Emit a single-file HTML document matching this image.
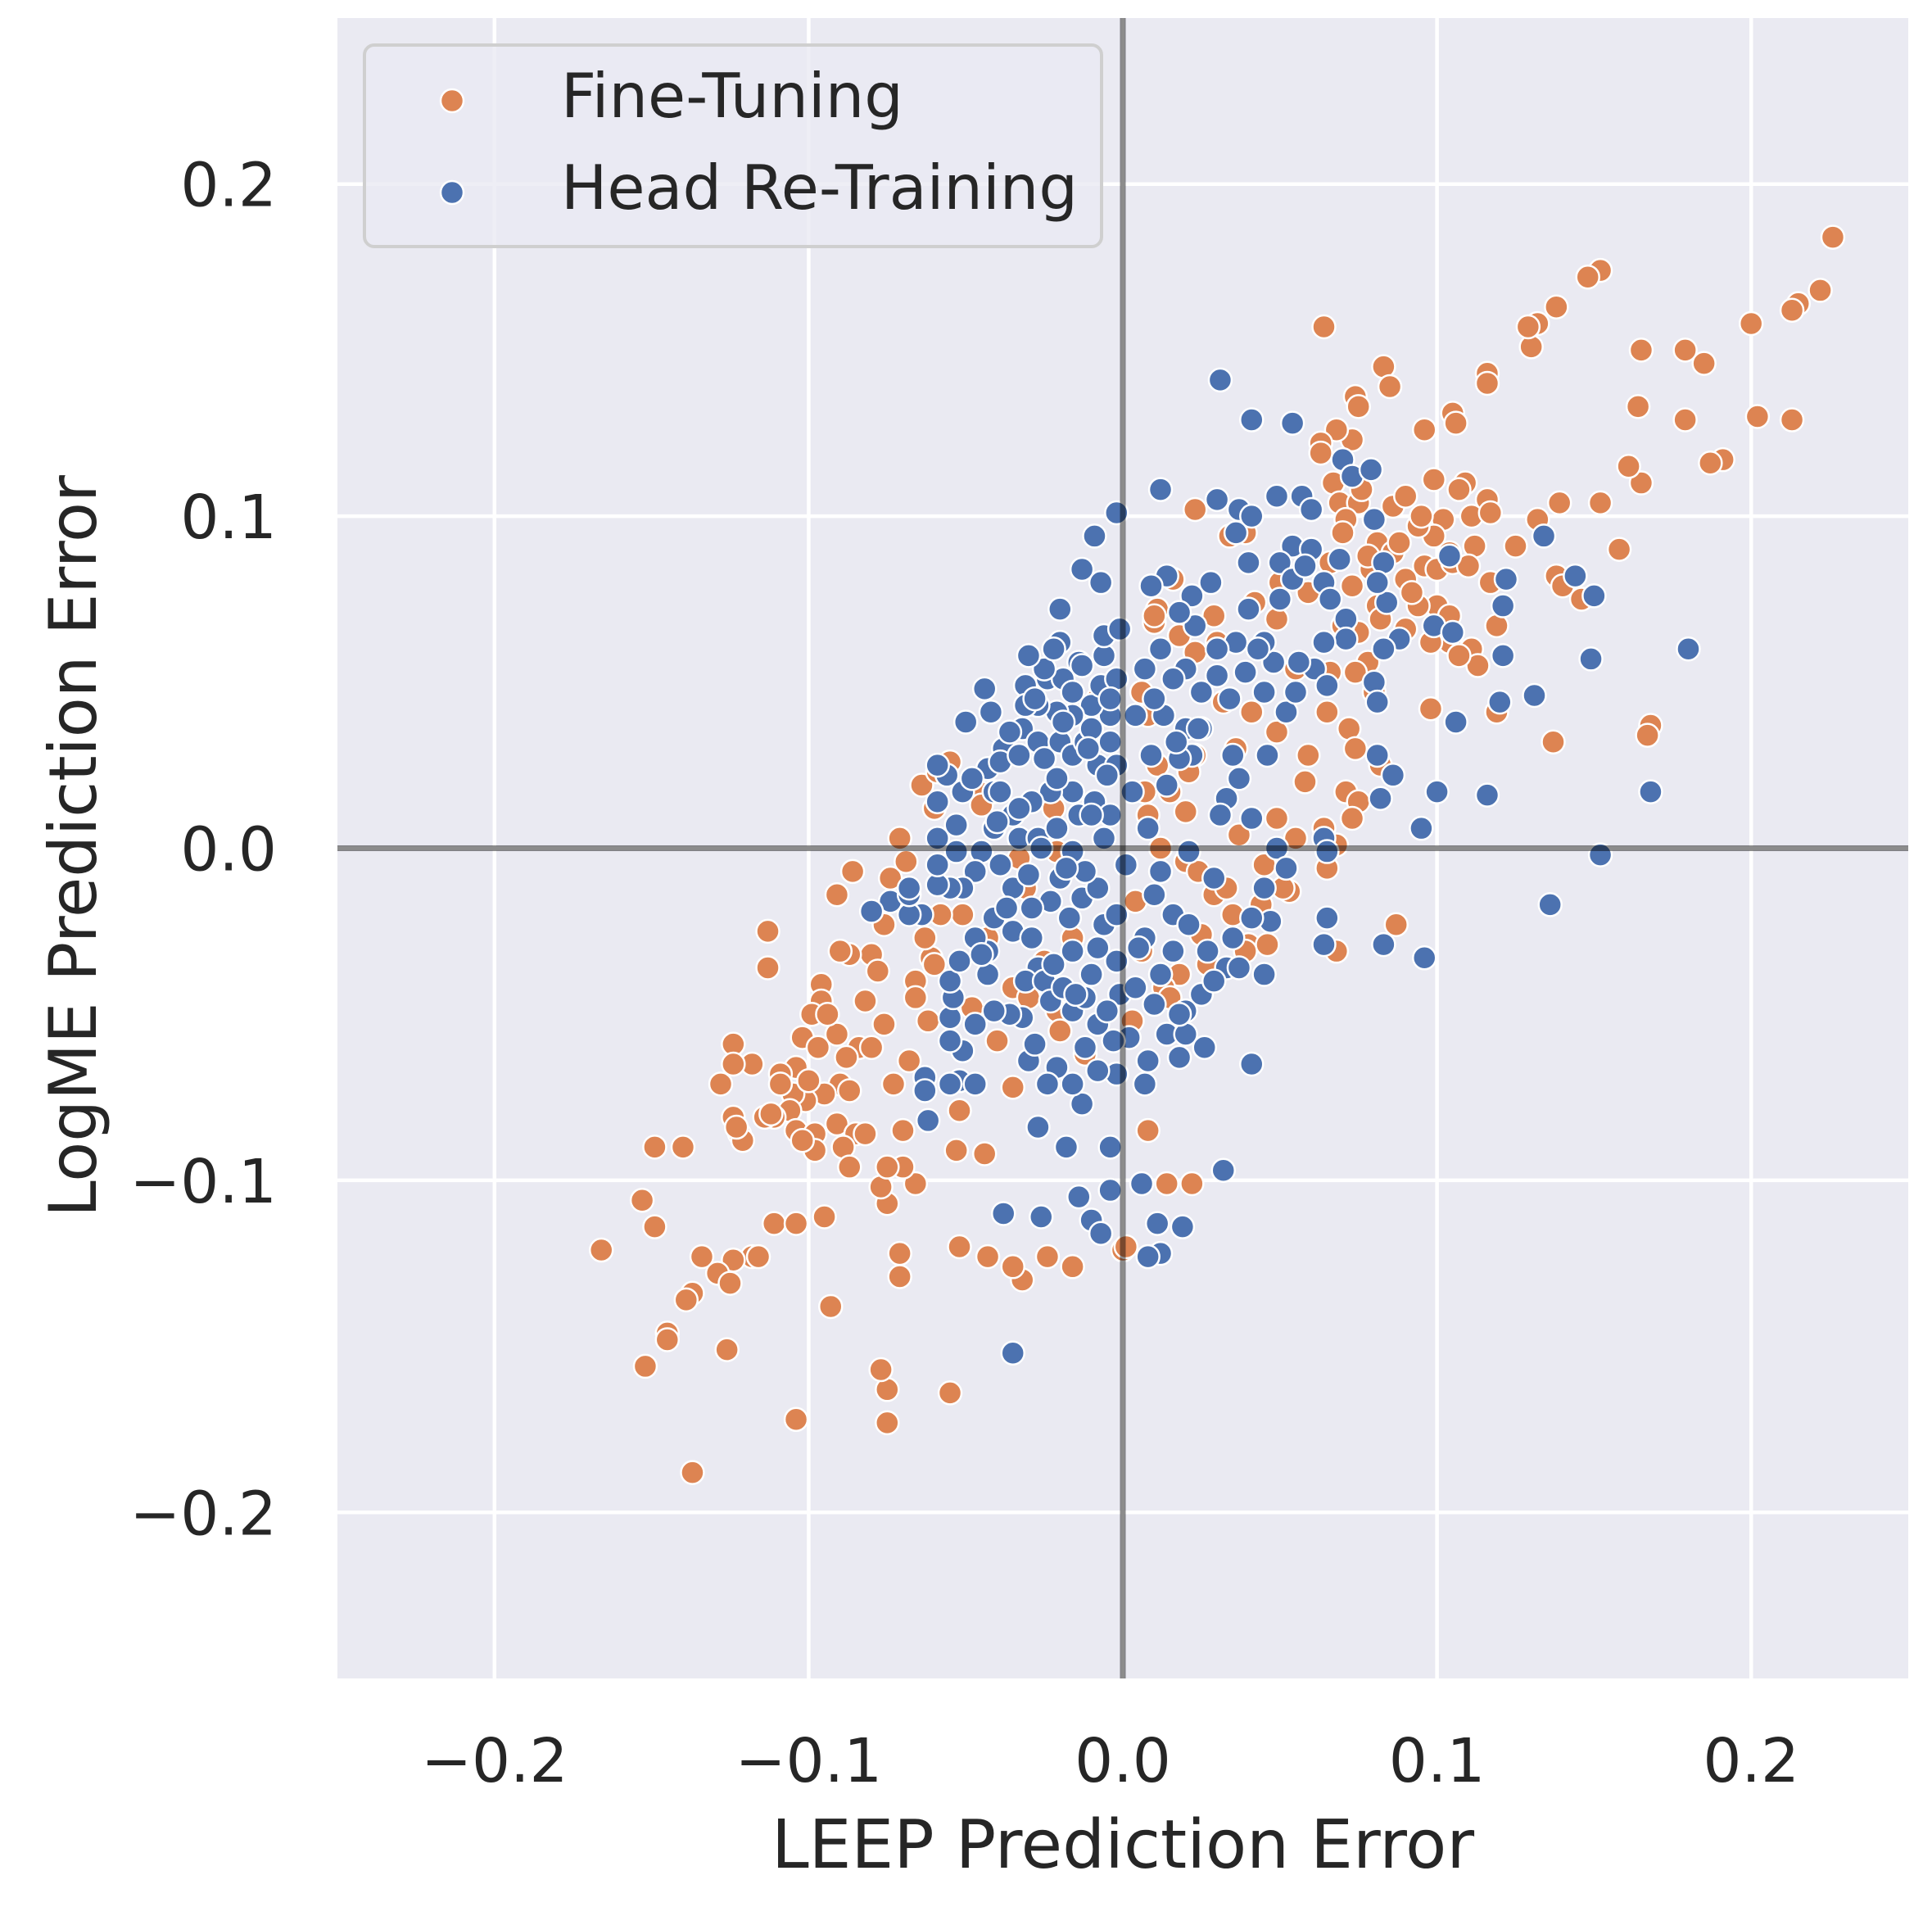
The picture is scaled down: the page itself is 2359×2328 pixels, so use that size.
<!DOCTYPE html>
<html><head><meta charset="utf-8"><style>
html,body{margin:0;padding:0;background:#fff;}
svg{display:block;font-family:"DejaVu Sans","Liberation Sans",sans-serif;}
</style></head><body>
<svg id="chart" width="2359" height="2328" viewBox="0 0 2359 2328" xmlns="http://www.w3.org/2000/svg">
<rect x="412" y="22" width="1918" height="2027" fill="#eaeaf2"/>
<g id="grid"></g>
<g id="pts"></g>
<g id="ref"></g>
<g id="ticks"></g>
<text x="1371" y="2280" font-size="82" text-anchor="middle" fill="#262626">LEEP Prediction Error</text>
<text transform="translate(117,1033) rotate(-90)" font-size="80" text-anchor="middle" fill="#262626">LogME Prediction Error</text>
<g>
<rect x="445" y="55" width="900" height="246" rx="12" fill="#eaeaf2" fill-opacity="0.8" stroke="#cfcfcf" stroke-width="4"/>
<circle cx="552" cy="123" r="14" fill="#dd8452" stroke="#fff" stroke-width="2.5"/>
<text x="685" y="143" font-size="75" fill="#262626">Fine-Tuning</text>
<circle cx="552" cy="235" r="14" fill="#4c72b0" stroke="#fff" stroke-width="2.5"/>
<text x="685" y="255" font-size="75" fill="#262626">Head Re-Training</text>
</g>
</svg>
<script>
const xTicks=[-0.2,-0.1,0.0,0.1,0.2];
const yTicks=[-0.2,-0.1,0.0,0.1,0.2];
const tickLabels=["\u22120.2","\u22120.1","0.0","0.1","0.2"];
const fineX=[0.226,0.222,0.215,0.213,0.200,0.213,0.202,0.191,0.187,0.185,0.179,0.179,0.165,0.164,0.165,0.161,0.158,0.152,0.148,0.138,0.132,0.130,0.129,0.152,0.139,0.132,0.138,0.140,0.146,0.125,0.116,0.116,0.105,0.106,0.096,0.099,0.109,0.116,0.111,0.102,0.099,0.112,0.104,0.096,0.100,0.090,0.117,0.100,0.104,0.111,0.113,0.119,0.119,0.098,0.137,0.168,0.167,0.064,0.083,0.085,0.074,0.075,0.073,0.068,0.063,0.063,0.067,0.069,0.075,0.071,0.081,0.086,0.079,0.073,0.081,0.075,0.078,0.066,0.065,0.072,0.074,0.082,0.071,0.075,0.073,0.064,0.068,0.065,0.068,0.087,0.023,0.034,0.039,0.050,0.042,0.029,0.011,0.010,0.023,0.032,0.041,0.049,0.036,0.023,0.021,0.011,0.015,0.020,0.049,0.012,0.020,0.024,0.029,0.035,0.044,0.053,0.040,0.046,0.025,0.018,0.013,0.006,0.008,0.014,0.022,0.000,0.001,-0.016,-0.024,-0.032,-0.035,-0.043,-0.052,-0.055,-0.035,-0.044,-0.053,-0.052,-0.071,-0.071,-0.075,-0.075,-0.077,-0.066,-0.070,-0.075,-0.077,-0.075,-0.070,-0.073,-0.068,-0.062,-0.066,-0.061,-0.063,-0.076,-0.074,-0.069,-0.071,-0.064,-0.059,-0.055,-0.060,-0.046,-0.086,-0.091,-0.080,-0.087,-0.090,-0.078,-0.082,-0.076,-0.084,-0.088,-0.091,-0.096,-0.096,-0.099,-0.102,-0.104,-0.097,-0.090,-0.087,-0.095,-0.101,-0.105,-0.109,-0.109,-0.106,-0.104,-0.098,-0.091,-0.085,-0.082,-0.089,-0.087,-0.098,-0.102,-0.111,-0.114,-0.118,-0.113,-0.113,-0.124,-0.124,-0.128,-0.124,-0.122,-0.121,-0.123,-0.149,-0.140,-0.153,-0.149,-0.166,-0.111,-0.104,-0.095,-0.118,-0.116,-0.124,-0.134,-0.129,-0.125,-0.137,-0.139,-0.145,-0.145,-0.152,-0.126,-0.093,-0.104,-0.137,-0.021,-0.033,-0.022,0.007,0.008,0.008,0.006,0.010,0.016,0.004,-0.031,-0.016,-0.035,-0.021,-0.043,-0.051,-0.025,0.039,0.051,0.055,0.059,0.037,0.055,0.049,0.059,0.066,0.076,0.086,0.090,0.094,0.107,0.117,0.105,0.094,0.090,0.098,0.107,0.082,0.074,0.080,0.070,
-0.060,-0.048,-0.040,-0.030,-0.020,-0.012,0.003,0.015,0.027,0.033,0.045,0.058,0.030,0.018,-0.008,-0.045,-0.058,-0.066,-0.080,-0.094,-0.100,-0.112,0.060,0.070,0.088,0.095,0.110,0.078,0.092,0.104];
const fineY=[0.184,0.168,0.164,0.162,0.158,0.129,0.130,0.117,0.116,0.146,0.150,0.129,0.150,0.133,0.110,0.115,0.090,0.174,0.172,0.163,0.158,0.151,0.157,0.104,0.104,0.099,0.082,0.079,0.075,0.091,0.143,0.140,0.131,0.128,0.126,0.111,0.110,0.105,0.100,0.099,0.094,0.091,0.089,0.085,0.084,0.081,0.080,0.073,0.062,0.060,0.055,0.067,0.041,0.042,0.032,0.037,0.034,0.157,0.145,0.139,0.136,0.133,0.123,0.126,0.122,0.119,0.110,0.104,0.104,0.099,0.092,0.089,0.084,0.079,0.073,0.065,0.056,0.053,0.041,0.036,0.030,0.025,0.017,0.014,0.009,0.006,0.001,-0.006,-0.031,-0.023,0.102,0.094,0.095,0.080,0.074,0.070,0.072,0.068,0.059,0.044,0.041,0.035,0.030,0.028,0.023,0.025,0.017,0.011,0.009,0.000,-0.004,-0.007,-0.014,-0.020,-0.017,-0.013,-0.029,-0.029,-0.026,-0.038,-0.042,-0.031,-0.085,-0.101,-0.101,-0.121,-0.120,-0.126,-0.123,-0.130,-0.126,-0.123,-0.120,-0.164,-0.072,-0.092,-0.091,-0.079,-0.122,-0.129,-0.173,-0.163,-0.157,-0.101,-0.096,-0.107,-0.102,-0.096,-0.085,-0.071,-0.064,-0.052,-0.040,-0.033,-0.027,-0.023,-0.009,-0.004,0.003,0.019,0.023,0.026,0.012,0.017,-0.007,-0.014,-0.032,-0.032,-0.031,-0.037,-0.046,-0.053,-0.060,-0.063,-0.056,-0.041,-0.046,-0.050,-0.057,-0.066,-0.060,-0.071,-0.073,-0.074,-0.076,-0.074,-0.068,-0.071,-0.079,-0.085,-0.086,-0.083,-0.086,-0.086,-0.090,-0.096,-0.091,-0.088,-0.081,-0.081,-0.065,-0.025,-0.036,-0.059,-0.065,-0.071,-0.081,-0.086,-0.088,-0.084,-0.090,-0.090,-0.106,-0.114,-0.121,-0.113,-0.113,-0.111,-0.123,-0.123,-0.124,-0.123,-0.128,-0.131,-0.134,-0.136,-0.146,-0.148,-0.156,-0.151,-0.138,-0.172,-0.188,-0.001,-0.003,0.012,0.017,0.010,0.040,0.047,0.070,0.081,-0.016,-0.012,-0.027,-0.042,-0.049,-0.027,-0.020,-0.034,-0.031,-0.012,0.003,0.028,0.004,0.054,0.069,0.077,0.086,0.108,0.103,0.106,0.097,0.108,0.101,0.086,0.073,0.066,0.062,0.058,0.069,0.053,0.047,0.067,
-0.035,-0.048,-0.058,-0.045,-0.055,-0.062,-0.052,-0.045,-0.035,-0.012,-0.005,0.020,0.062,0.064,0.045,0.013,-0.020,-0.045,-0.060,-0.050,-0.070,-0.080,0.090,0.095,0.092,0.100,0.085,0.088,0.077,0.070];
const headX=[0.031,0.041,0.054,0.012,-0.002,-0.009,-0.013,-0.007,-0.020,0.030,0.037,0.041,0.049,0.057,0.060,0.070,0.073,0.079,0.080,0.054,0.040,0.050,0.054,0.064,0.069,0.083,0.084,0.081,0.104,0.122,0.134,0.121,0.144,0.150,0.149,0.180,0.099,0.105,0.121,0.088,0.083,0.071,0.071,0.064,0.061,0.065,0.080,0.081,0.120,0.131,0.106,0.086,0.081,0.082,0.100,0.116,0.095,0.168,0.152,0.136,0.096,0.083,0.065,0.064,0.064,0.065,0.049,0.052,0.045,0.047,0.041,0.045,0.041,0.032,0.019,0.011,0.012,0.008,0.006,-0.004,-0.004,-0.010,-0.007,-0.014,-0.026,-0.038,-0.018,-0.027,-0.013,-0.035,0.046,0.037,0.033,0.041,0.031,0.052,0.055,0.045,0.048,0.056,0.036,0.039,0.030,0.034,0.025,0.020,0.023,0.028,0.022,0.014,0.009,0.018,0.012,0.007,0.016,0.013,0.020,0.025,0.022,0.009,0.003,0.014,0.008,0.012,0.010,0.016,0.021,0.027,0.033,0.025,0.020,0.014,0.020,0.018,0.008,0.007,0.002,-0.001,-0.002,0.007,0.004,0.010,-0.002,-0.008,-0.012,-0.016,-0.021,-0.024,-0.030,-0.028,-0.032,-0.036,-0.041,-0.047,-0.051,-0.055,-0.052,-0.055,-0.063,-0.063,-0.062,-0.047,-0.055,-0.054,-0.055,-0.052,-0.043,-0.043,-0.047,-0.041,-0.035,-0.029,-0.027,-0.031,-0.025,-0.023,-0.019,-0.016,-0.012,-0.008,-0.005,-0.010,-0.016,-0.017,-0.013,-0.008,-0.006,-0.012,-0.016,-0.020,-0.023,-0.029,-0.035,-0.039,-0.033,-0.027,-0.021,-0.014,-0.006,-0.009,-0.016,-0.023,-0.029,-0.035,-0.041,-0.045,-0.047,-0.051,-0.055,-0.059,-0.064,-0.068,-0.074,-0.080,-0.068,-0.059,-0.053,-0.059,-0.053,-0.059,-0.056,-0.050,-0.042,-0.041,-0.043,-0.038,-0.039,-0.033,-0.032,-0.027,-0.025,-0.021,-0.020,-0.016,-0.012,-0.008,-0.004,-0.002,-0.004,-0.010,-0.016,-0.021,-0.027,-0.031,-0.024,-0.019,-0.014,-0.006,-0.006,-0.001,-0.007,-0.002,-0.020,-0.025,-0.031,-0.039,-0.051,-0.059,-0.068,0.035,0.018,0.021,0.029,0.035,0.029,0.037,0.016,0.012,-0.016,-0.010,-0.004,0.001,-0.002,
-0.045,-0.037,-0.030,-0.022,-0.015,-0.008,-0.003,-0.040,-0.033,-0.026,-0.018,-0.010,-0.048,-0.036,-0.028,-0.019,-0.011,-0.004,-0.044,-0.030,-0.022,-0.013,-0.005,0.005,0.012,0.018,0.026,0.004,0.010,0.017,0.024,0.030,0.040,0.045,0.050,0.060,0.066,0.058,0.043,0.036];
const headY=[0.141,0.129,0.128,0.108,0.101,0.094,0.084,0.080,0.072,0.105,0.102,0.100,0.106,0.106,0.102,0.117,0.112,0.114,0.099,0.091,0.086,0.086,0.081,0.080,0.087,0.086,0.074,0.080,0.088,0.081,0.094,0.073,0.082,0.076,0.057,0.060,0.067,0.065,0.058,0.063,0.060,0.069,0.063,0.062,0.054,0.049,0.050,0.044,0.044,0.046,0.038,0.022,0.028,0.015,0.017,0.016,0.006,0.017,-0.002,-0.017,-0.033,-0.029,-0.021,-0.029,0.003,-0.001,0.000,-0.006,-0.012,-0.022,-0.021,-0.038,-0.065,-0.097,-0.114,-0.113,-0.122,-0.123,-0.101,-0.103,-0.090,-0.112,-0.116,-0.105,-0.111,-0.110,-0.090,-0.084,-0.077,-0.152,0.028,0.021,0.015,0.009,0.010,0.041,0.047,0.047,0.056,0.056,0.062,0.053,0.052,0.045,0.047,0.054,0.067,0.080,0.076,0.082,0.079,0.071,0.060,0.054,0.051,0.040,0.036,0.036,0.028,0.028,0.017,0.019,0.006,-0.007,-0.014,-0.020,-0.023,-0.031,-0.036,-0.044,-0.049,-0.056,-0.056,-0.063,-0.064,-0.071,-0.057,-0.044,-0.034,-0.027,-0.042,-0.047,-0.068,-0.067,-0.060,-0.071,-0.066,-0.071,-0.064,-0.059,-0.051,-0.050,-0.049,-0.053,-0.061,-0.058,-0.070,-0.071,-0.069,-0.073,-0.082,-0.071,-0.051,-0.045,-0.040,-0.034,-0.038,-0.031,-0.027,-0.021,-0.025,-0.027,-0.036,-0.040,-0.040,-0.046,-0.042,-0.049,-0.045,-0.053,-0.049,-0.038,-0.031,-0.021,-0.015,-0.012,-0.023,-0.007,-0.001,-0.009,-0.016,-0.018,-0.012,-0.005,0.003,0.003,0.006,0.010,0.003,0.014,0.017,0.017,0.014,0.010,0.006,-0.001,-0.007,-0.012,-0.012,-0.011,-0.020,-0.020,-0.016,-0.019,-0.014,-0.005,-0.001,0.003,0.007,0.014,0.022,0.038,0.041,0.017,0.024,0.030,0.026,0.028,0.036,0.032,0.027,0.021,0.032,0.028,0.032,0.025,0.032,0.025,0.040,0.043,0.040,0.041,0.043,0.049,0.051,0.051,0.056,0.058,0.064,0.066,0.049,0.051,0.062,0.054,0.043,0.017,0.017,0.025,-0.012,0.028,0.027,-0.001,-0.009,-0.027,-0.040,-0.036,-0.031,-0.038,0.047,0.036,0.010,-0.005,-0.020,
-0.032,-0.018,-0.008,-0.035,-0.044,-0.030,-0.058,0.008,0.012,0.000,-0.006,0.010,0.021,0.035,0.045,0.038,0.030,0.045,0.048,0.058,0.060,0.055,0.022,-0.030,-0.038,-0.050,-0.060,0.040,0.045,0.032,0.036,0.060,0.072,0.062,0.075,0.090,0.075,0.085,0.060,0.095];

const NS="http://www.w3.org/2000/svg";
const L=412,R=2330,T=22,B=2049,X0=-0.25,X1=0.25,Y0=-0.25,Y1=0.25;
function sx(v){return L+(v-X0)/(X1-X0)*(R-L);}
function sy(v){return B-(v-Y0)/(Y1-Y0)*(B-T);}
function mk(tag,attrs,parent){const e=document.createElementNS(NS,tag);for(const k in attrs)e.setAttribute(k,attrs[k]);parent.appendChild(e);return e;}
const grid=document.getElementById('grid'),pts=document.getElementById('pts'),ref=document.getElementById('ref'),ticks=document.getElementById('ticks');
xTicks.forEach((v,i)=>{
  const g=mk('line',{x1:sx(v),x2:sx(v),y1:T,y2:B,stroke:'#fff','stroke-width':4.5},grid);
  
  
  const t=mk('text',{x:sx(v),y:2175,'font-size':74,'text-anchor':'middle',fill:'#262626'},ticks);
  t.textContent=tickLabels[i];
  
  
});
yTicks.forEach((v,i)=>{
  const g=mk('line',{x1:L,x2:R,y1:sy(v),y2:sy(v),stroke:'#fff','stroke-width':4.5},grid);
  
  
  const t=mk('text',{x:338,y:sy(v)+27,'font-size':74,'text-anchor':'end',fill:'#262626'},ticks);
  t.textContent=tickLabels[i];
  
  
});
function drawSeries(xs,ys,color,name){
  for(let i=0;i<xs.length;i++){
    const c=mk('circle',{cx:sx(xs[i]),cy:sy(ys[i]),r:14,fill:color,stroke:'#fff','stroke-width':2.5},pts);
    
    
  }
}
drawSeries(fineX,fineY,'#dd8452','fine-tuning-point');
drawSeries(headX,headY,'#4c72b0','head-re-training-point');
const vl=mk('line',{x1:sx(0),x2:sx(0),y1:T,y2:B,stroke:'#000','stroke-opacity':0.45,'stroke-width':7},ref);


const hl=mk('line',{x1:L,x2:R,y1:sy(0),y2:sy(0),stroke:'#000','stroke-opacity':0.45,'stroke-width':7},ref);


</script>
</body></html>
